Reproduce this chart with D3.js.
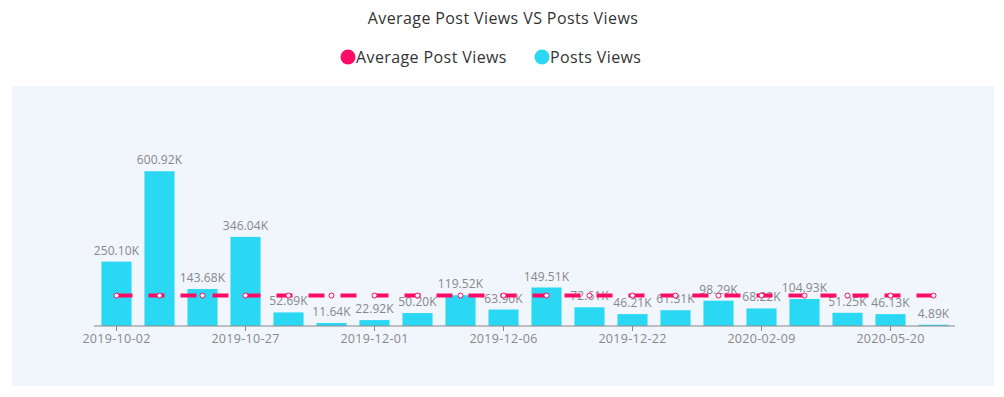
<!DOCTYPE html>
<html>
<head>
<meta charset="utf-8">
<script src="https://cdn.jsdelivr.net/npm/d3@7"></script>
<style>
  body { margin: 0; background: #fff; }
  svg { display: block; font-family: "Open Sans", sans-serif; }
</style>
</head>
<body>
<div id="chart"></div>
<script>
//Data
var dates = ["2019-10-02", "2019-10-12", "2019-10-20", "2019-10-27", "2019-11-03",
  "2019-11-10", "2019-12-01", "2019-12-02", "2019-12-04", "2019-12-06",
  "2019-12-10", "2019-12-15", "2019-12-22", "2020-01-05", "2020-01-20",
  "2020-02-09", "2020-03-01", "2020-04-12", "2020-05-20", "2020-06-01"];
var postViews = [250.10, 600.92, 143.68, 346.04, 52.69, 11.64, 22.92, 50.20, 119.52, 63.90,
  149.51, 72.61, 46.21, 61.31, 98.29, 68.22, 104.93, 51.25, 46.13, 4.89];
var avgViews = [118.25, 118.25, 118.25, 118.25, 118.25, 118.25, 118.25, 118.25, 118.25, 118.25,
  118.25, 118.25, 118.25, 118.25, 118.25, 118.25, 118.25, 118.25, 118.25, 118.25];
var yMax = 800;

var W = 1004, H = 397;
var pink = "#ff0a66", cyan = "#2ad8f4";

var svg = d3.select("#chart").append("svg")
  .attr("width", W)
  .attr("height", H);

//Panel
svg.append("rect")
  .attr("x", 12).attr("y", 86)
  .attr("width", 982).attr("height", 300)
  .attr("fill", "#f1f5fc");

//Title
svg.append("text")
  .attr("x", 503).attr("y", 24)
  .attr("text-anchor", "middle")
  .style("font-size", "16px")
  .style("letter-spacing", "0.4px")
  .style("fill", "#333")
  .text("Average Post Views VS Posts Views");

//Legend
var legend = [{name: "Average Post Views", color: pink, x: 348},
  {name: "Posts Views", color: cyan, x: 542}];
var lg = svg.selectAll(".legend")
  .data(legend)
  .enter()
  .append("g")
  .attr("transform", d => "translate(" + d.x + ",57)");
lg.append("circle").attr("r", 7.5).attr("fill", d => d.color);
lg.append("text")
  .attr("x", 8).attr("y", 6)
  .style("font-size", "16px")
  .style("letter-spacing", "0.4px")
  .style("fill", "#333")
  .text(d => d.name);

//Scales
var x = d3.scaleBand()
  .domain(dates)
  .range([95, 955])
  .paddingInner(0.3)
  .paddingOuter(0.15);
var y = d3.scaleLinear()
  .domain([0, yMax])
  .range([326, 120]);

var data = dates.map((d, i) => ({date: d, v: postViews[i], a: avgViews[i]}));

//Bars
svg.selectAll(".bar")
  .data(data)
  .enter()
  .append("rect")
  .attr("x", d => x(d.date))
  .attr("y", d => y(d.v))
  .attr("width", x.bandwidth())
  .attr("height", d => y(0) - y(d.v))
  .attr("fill", cyan);

//Axis
var axis = svg.append("g")
  .attr("transform", "translate(0,326)")
  .call(d3.axisBottom(x)
    .tickValues(dates.filter((d, i) => i % 3 == 0))
    .tickSize(5)
    .tickSizeOuter(0));
axis.select(".domain").attr("stroke", "#888").attr("d", "M94,0H955");
axis.selectAll(".tick line").attr("stroke", "#888");
axis.selectAll(".tick text")
  .attr("y", 8)
  .style("font-size", "12.5px")
  .style("letter-spacing", "0.3px")
  .style("font-family", "'Open Sans', sans-serif")
  .style("fill", "#888");

//Bar labels
svg.selectAll(".lbl")
  .data(data)
  .enter()
  .append("text")
  .attr("x", d => x(d.date) + x.bandwidth() / 2)
  .attr("y", d => y(d.v) - 7)
  .attr("text-anchor", "middle")
  .style("font-size", "12px")
  .style("letter-spacing", "0.1px")
  .style("fill", "#888")
  .text(d => d.v.toFixed(2) + "K");

//Average line
var cx = d => x(d.date) + x.bandwidth() / 2;
svg.append("path")
  .datum(data)
  .attr("d", d3.line().x(cx).y(d => y(d.a)))
  .attr("fill", "none")
  .attr("stroke", pink)
  .attr("stroke-width", 4)
  .attr("stroke-dasharray", "16,16");

svg.selectAll(".dot")
  .data(data)
  .enter()
  .append("circle")
  .attr("cx", cx)
  .attr("cy", d => y(d.a))
  .attr("r", 2.5)
  .attr("fill", "#fff")
  .attr("stroke", pink)
  .attr("stroke-width", 1);
</script>
</body>
</html>
